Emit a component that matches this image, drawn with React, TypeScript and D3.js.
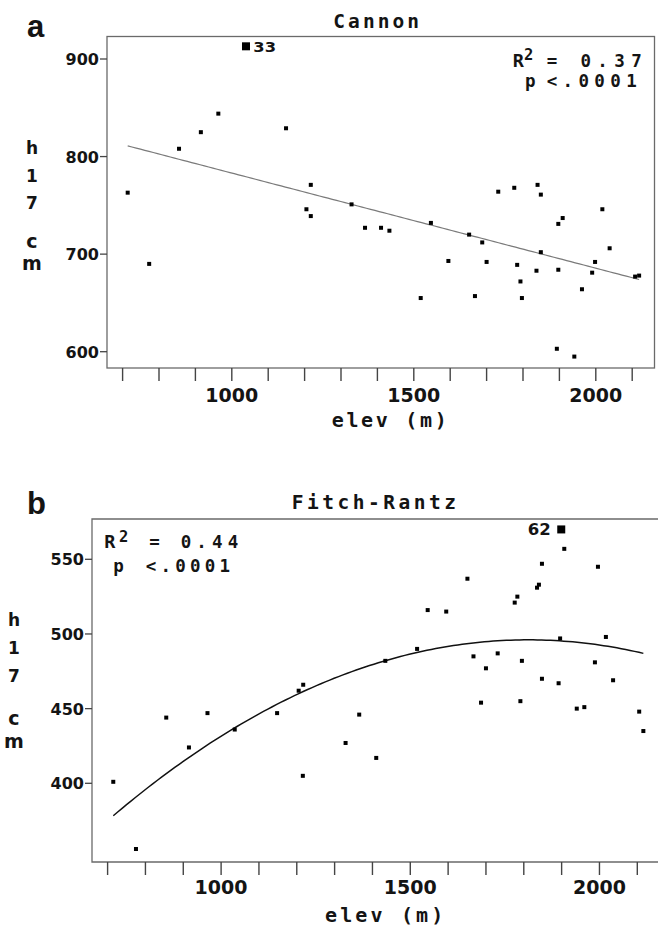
import React from 'react';
import * as d3 from 'd3';

// ---------- data ----------
const cannonElev = [714, 773, 855, 915, 963, 1039, 1149, 1217, 1205, 1217, 1329, 1366, 1410, 1433, 1519, 1547, 1595, 1652, 1668, 1688, 1700, 1732, 1776, 1784, 1793, 1797, 1837, 1840, 1849, 1849, 1893, 1897, 1897, 1909, 1941, 1962, 1990, 1998, 2018, 2038, 2108, 2119];
const cannonH17 = [763, 690, 808, 825, 844, 913, 829, 771, 746, 739, 751, 727, 727, 724, 655, 732, 693, 720, 657, 712, 692, 764, 768, 689, 672, 655, 683, 771, 761, 702, 603, 731, 684, 737, 595, 664, 681, 692, 746, 706, 677, 678];
const cannonLabelIndex = 5;
const cannonLabel = '33';
const cannonFit = { intercept: 880.6, slope: -0.0975 }; // linear
const cannonStats = { r2: '0.37', p: '<.0001' };

const fitchElev = [715, 775, 855, 915, 964, 1036, 1148, 1205, 1217, 1216, 1329, 1365, 1410, 1434, 1518, 1546, 1595, 1651, 1667, 1687, 1700, 1731, 1776, 1783, 1791, 1795, 1835, 1840, 1848, 1848, 1892, 1896, 1899, 1907, 1940, 1960, 1988, 1996, 2017, 2036, 2105, 2116];
const fitchH17 = [401, 356, 444, 424, 447, 436, 447, 462, 466, 405, 427, 446, 417, 482, 490, 516, 515, 537, 485, 454, 477, 487, 521, 525, 455, 482, 531, 533, 547, 470, 467, 497, 570, 557, 450, 451, 481, 545, 498, 469, 448, 435];
const fitchLabelIndex = 32;
const fitchLabel = '62';
// quadratic in u = (elev - 1400) / 1000
const fitchFit = { a: 479.47, b: 80.63, c: -97.91, center: 1400, unit: 1000 };
const fitchStats = { r2: '0.44', p: '<.0001' };

const xTicks = [700, 800, 900, 1000, 1100, 1200, 1300, 1400, 1500, 1600, 1700, 1800, 1900, 2000, 2100];
const xTickLabels = [1000, 1500, 2000];
const cannonYTicks = [600, 700, 800, 900];
const fitchYTicks = [400, 450, 500, 550];
const yLabelChars = ['h', '1', '7', 'c', 'm'];

const MONO = "'DejaVu Sans Mono', monospace";
const SANS = "'DejaVu Sans', sans-serif";
const ARIAL = "'Liberation Sans', Arial, sans-serif";

type Layout = {
  left: number; top: number; right: number; bottom: number; box: boolean;
  xRange: [number, number]; yRange: [number, number]; yDomain: [number, number];
  yTicks: number[];
  letter: string; letterY: number;
  title: string; titleX0: number; titleX1: number; titleY: number;
  xLabelX0: number; xLabelX1: number; xLabelY: number; xTickLabelY: number;
  yLabelX: number; yLabelYs: number[];
  stats: { r2: string; p: string };
  statsR: { rx: number; twoX: number; eqX0: number; eqX1: number; y: number; supDy: number; px: number; ltX0: number; ltX1: number; pY: number };
  elev: number[]; h17: number[]; labelIndex: number; label: string;
  labelBox: { x0: number; x1: number; y: number; size: number; weight: string };
  fitColor: string; fitWidth: number;
  fit: (x: number) => number;
};

function Panel({ L }: { L: Layout }) {
  const x = d3.scaleLinear().domain([700, 2100]).range(L.xRange);
  const y = d3.scaleLinear().domain(L.yDomain).range(L.yRange);
  const ext = d3.extent(L.elev) as [number, number];
  const xs = d3.range(ext[0], ext[1] + 0.001, (ext[1] - ext[0]) / 120);
  const line = d3.line<number>().x(d => x(d)).y(d => y(L.fit(d)));
  const frameColor = '#6a6a6a';
  const sq = 4;
  const big = 8;
  const ink = '#141414';
  const statSize = 17.5;
  return (
    <g>
      <text x={27} y={L.letterY} fontFamily={ARIAL} fontWeight="bold" fontSize={31} fill={ink}>{L.letter}</text>
      <text x={L.titleX0} y={L.titleY} fontFamily={MONO} fontWeight="bold" fontSize={19.5} textLength={L.titleX1 - L.titleX0} lengthAdjust="spacing" fill={ink}>{L.title}</text>
      {/* frame */}
      {L.box ? (
        <rect x={L.left} y={L.top} width={L.right - L.left} height={L.bottom - L.top} fill="none" stroke={frameColor} strokeWidth={1.3} />
      ) : (
        <path d={`M${L.right},${L.top}H${L.left}V${L.bottom}H${L.right}`} fill="none" stroke={frameColor} strokeWidth={1.3} />
      )}
      {/* x ticks */}
      {xTicks.map(t => (
        <line key={t} x1={x(t)} x2={x(t)} y1={L.bottom} y2={L.bottom + 13} stroke="#444" strokeWidth={1.4} />
      ))}
      {xTickLabels.map(t => (
        <text key={t} x={x(t)} y={L.xTickLabelY} textAnchor="middle" fontFamily={SANS} fontWeight="bold" fontSize={19} textLength={53} lengthAdjust="spacing" fill={ink}>{t}</text>
      ))}
      <text x={L.xLabelX0} y={L.xLabelY} fontFamily={MONO} fontWeight="bold" fontSize={20} textLength={L.xLabelX1 - L.xLabelX0} lengthAdjust="spacing" fill={ink}>elev (m)</text>
      {/* y ticks */}
      {L.yTicks.map(t => (
        <g key={t}>
          <line x1={L.left - 7} x2={L.left} y1={y(t)} y2={y(t)} stroke="#444" strokeWidth={1.3} />
          <text x={L.left - 8} y={y(t) + 6} textAnchor="end" fontFamily={SANS} fontWeight="bold" fontSize={16} fill={ink}>{t}</text>
        </g>
      ))}
      {yLabelChars.map((c, i) => (
        <text key={i} x={L.yLabelX} y={L.yLabelYs[i]} textAnchor="middle" fontFamily={SANS} fontWeight="bold" fontSize={i < 3 ? 17 : 19} fill={ink}>{c}</text>
      ))}
      {/* stats */}
      <text x={L.statsR.rx} y={L.statsR.y} fontFamily={MONO} fontWeight="bold" fontSize={statSize + 1} fill={ink}>R</text>
      <text x={L.statsR.twoX} y={L.statsR.y + L.statsR.supDy} fontFamily={MONO} fontWeight="bold" fontSize={15.5} fill={ink}>2</text>
      <text x={L.statsR.eqX0} y={L.statsR.y} fontFamily={MONO} fontWeight="bold" fontSize={statSize} textLength={L.statsR.eqX1 - L.statsR.eqX0} lengthAdjust="spacing" fill={ink}>{`= ${L.stats.r2}`}</text>
      <text x={L.statsR.px} y={L.statsR.pY} fontFamily={MONO} fontWeight="bold" fontSize={statSize} fill={ink}>p</text>
      <text x={L.statsR.ltX0} y={L.statsR.pY} fontFamily={MONO} fontWeight="bold" fontSize={statSize} textLength={L.statsR.ltX1 - L.statsR.ltX0} lengthAdjust="spacing" fill={ink}>{L.stats.p}</text>
      {/* fit */}
      <path d={line(xs) || ''} fill="none" stroke={L.fitColor} strokeWidth={L.fitWidth} />
      {/* points */}
      {L.elev.map((e, i) => {
        const s = i === L.labelIndex ? big : sq;
        return <rect key={i} x={x(e) - s / 2} y={y(L.h17[i]) - s / 2} width={s} height={s} fill="#000" />;
      })}
      <text x={L.labelBox.x0} y={L.labelBox.y} fontFamily={SANS} fontWeight={L.labelBox.weight} fontSize={L.labelBox.size} textLength={L.labelBox.x1 - L.labelBox.x0} lengthAdjust="spacingAndGlyphs" fill={ink}>{L.label}</text>
    </g>
  );
}

const layoutA: Layout = {
  left: 107, top: 36.5, right: 654.5, bottom: 368, box: true,
  xRange: [122.6, 632.2], yRange: [351.7, 59], yDomain: [600, 900], yTicks: cannonYTicks,
  letter: 'a', letterY: 36.7,
  title: 'Cannon', titleX0: 333.3, titleX1: 419, titleY: 28.3,
  xLabelX0: 331.7, xLabelX1: 446.7, xLabelY: 427, xTickLabelY: 401.7,
  yLabelX: 32, yLabelYs: [154, 181.7, 208.5, 248.3, 270],
  stats: cannonStats,
  statsR: { rx: 512.7, twoX: 524, eqX0: 546.7, eqX1: 641.7, y: 66.7, supDy: -6.7, px: 525, ltX0: 546.7, ltX1: 636.7, pY: 87.3 },
  elev: cannonElev, h17: cannonH17, labelIndex: cannonLabelIndex, label: cannonLabel,
  labelBox: { x0: 253.3, x1: 276, y: 52.3, size: 14.5, weight: 'bold' },
  fitColor: '#7a7a7a', fitWidth: 1.2,
  fit: (e: number) => cannonFit.intercept + cannonFit.slope * e,
};

const layoutB: Layout = {
  left: 92, top: 519, right: 658, bottom: 862, box: false,
  xRange: [107.6, 637.3], yRange: [783.3, 559.3], yDomain: [400, 550], yTicks: fitchYTicks,
  letter: 'b', letterY: 514,
  title: 'Fitch-Rantz', titleX0: 291.7, titleX1: 456, titleY: 509,
  xLabelX0: 325, xLabelX1: 443.3, xLabelY: 922, xTickLabelY: 894.3,
  yLabelX: 14, yLabelYs: [625.7, 654.3, 681.7, 725, 748.3],
  stats: fitchStats,
  statsR: { rx: 104.3, twoX: 119, eqX0: 149.3, eqX1: 238.3, y: 548.3, supDy: -6.6, px: 113.3, ltX0: 145.7, ltX1: 230, pY: 572.3 },
  elev: fitchElev, h17: fitchH17, labelIndex: fitchLabelIndex, label: fitchLabel,
  labelBox: { x0: 527.7, x1: 550.7, y: 535, size: 16.5, weight: 'bold' },
  fitColor: '#111', fitWidth: 1.5,
  fit: (e: number) => {
    const u = (e - fitchFit.center) / fitchFit.unit;
    return fitchFit.a + fitchFit.b * u + fitchFit.c * u * u;
  },
};

export default function App() {
  return (
    <svg width={658} height={926} viewBox="0 0 658 926" style={{ position: 'absolute', left: 0, top: 0, background: '#fff' }}>
      <rect x={0} y={0} width={658} height={926} fill="#fff" />
      <Panel L={layoutA} />
      <Panel L={layoutB} />
    </svg>
  );
}
